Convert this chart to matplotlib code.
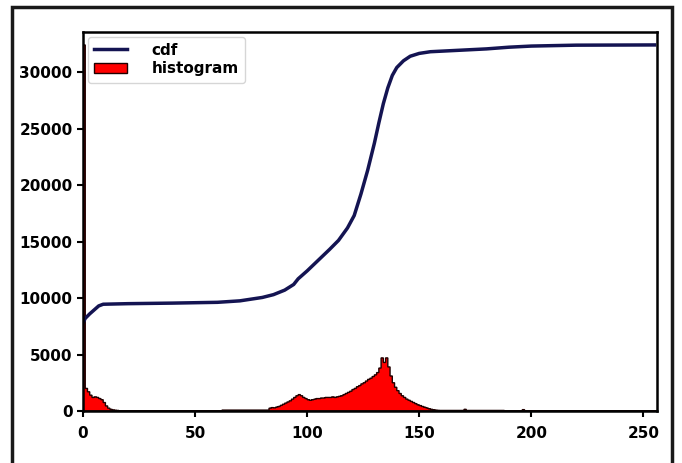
import numpy as np
import matplotlib
matplotlib.use('Agg')
import matplotlib.pyplot as plt
from matplotlib.patches import Rectangle

# histogram counts per grey level
hist_low = [32400, 2000, 1700, 1400, 1200, 1250, 1200, 1100, 1000, 750,
            450, 250, 150, 100, 70, 50]            # bins 0-15
hist_gap = [15] * 46                                # bins 16-61
hist_mid = [80] * 21                                # bins 62-82
hist_main = [250, 300, 280, 350, 400, 500, 600, 700, 800, 900,
             1050, 1200, 1350, 1450, 1350, 1200, 1100, 1000, 950, 1000,
             1050, 1100, 1100, 1150, 1150, 1200, 1200, 1200, 1250, 1200,
             1250, 1300, 1350, 1450, 1550, 1650, 1750, 1900, 2000, 2150,
             2250, 2400, 2500, 2650, 2800, 2900, 3050, 3200, 3400, 3800,
             4700, 4300, 4700, 3900, 3100, 2500, 2100, 1800, 1550, 1350,
             1200, 1050, 950, 850, 750, 650, 550, 480, 400, 330,
             270, 200, 150, 110, 80, 60]                # bins 83-158
hist_tail1 = [50] * 11 + [150] + [50] * 17          # bins 159-187
hist_tail2 = [15] * 8 + [120] + [15] * 59           # bins 188-255
hist = hist_low + hist_gap + hist_mid + hist_main + hist_tail1 + hist_tail2

# normalised cdf curve
cdf_x = [0, 1, 3, 5, 7, 9, 20, 40, 60, 70, 80, 85, 90, 94, 96, 100,
         110, 114, 118, 121, 124, 127, 130, 132, 134, 136, 138, 140, 143,
         146, 150, 155, 165, 180, 190, 200, 220, 255]
cdf_y = [7800, 8200, 8600, 8950, 9300, 9450, 9500, 9550, 9620, 9750,
         10050, 10300, 10700, 11200, 11700, 12400, 14300, 15100, 16200,
         17300, 19200, 21300, 23700, 25500, 27200, 28600, 29700, 30400,
         31000, 31400, 31650, 31800, 31900, 32050, 32200, 32300, 32380,
         32400]

fig = plt.figure(figsize=(6.82, 4.63), dpi=100)
ax = fig.add_axes([0.1217, 0.1123, 0.8413, 0.8187])

bins = np.arange(257)
ax.hist(np.arange(256), bins=bins, weights=hist, color='r',
        histtype='stepfilled', edgecolor='#200000', linewidth=1.0,
        label='histogram')
ax.plot(cdf_x, cdf_y, color='#141452', linewidth=2.5, label='cdf')

ax.set_xlim(0, 256)
ax.set_ylim(0, 33550)
ax.set_xticks([0, 50, 100, 150, 200, 250])
ax.set_yticks([0, 5000, 10000, 15000, 20000, 25000, 30000])
ax.tick_params(labelsize=11, width=1.5, length=4)
ax.tick_params(axis='x', pad=7)
for lab in ax.get_xticklabels() + ax.get_yticklabels():
    lab.set_fontweight('bold')
for s in ax.spines.values():
    s.set_linewidth(1.8)

handles, labels = ax.get_legend_handles_labels()
ax.legend(handles[::-1], labels[::-1], loc='upper left',
          prop={'size': 11, 'weight': 'bold'}, labelspacing=0.25,
          handletextpad=1.6, borderaxespad=0.3, handlelength=2.2)

# outer frame of the screenshot
fig.patches.append(Rectangle((12 / 682, -0.01), 660 / 682, 1 - 7 / 463 + 0.01,
                             transform=fig.transFigure, fill=False,
                             edgecolor='#1a1a1a', linewidth=2.5))

fig.savefig('out.png', dpi=100)
